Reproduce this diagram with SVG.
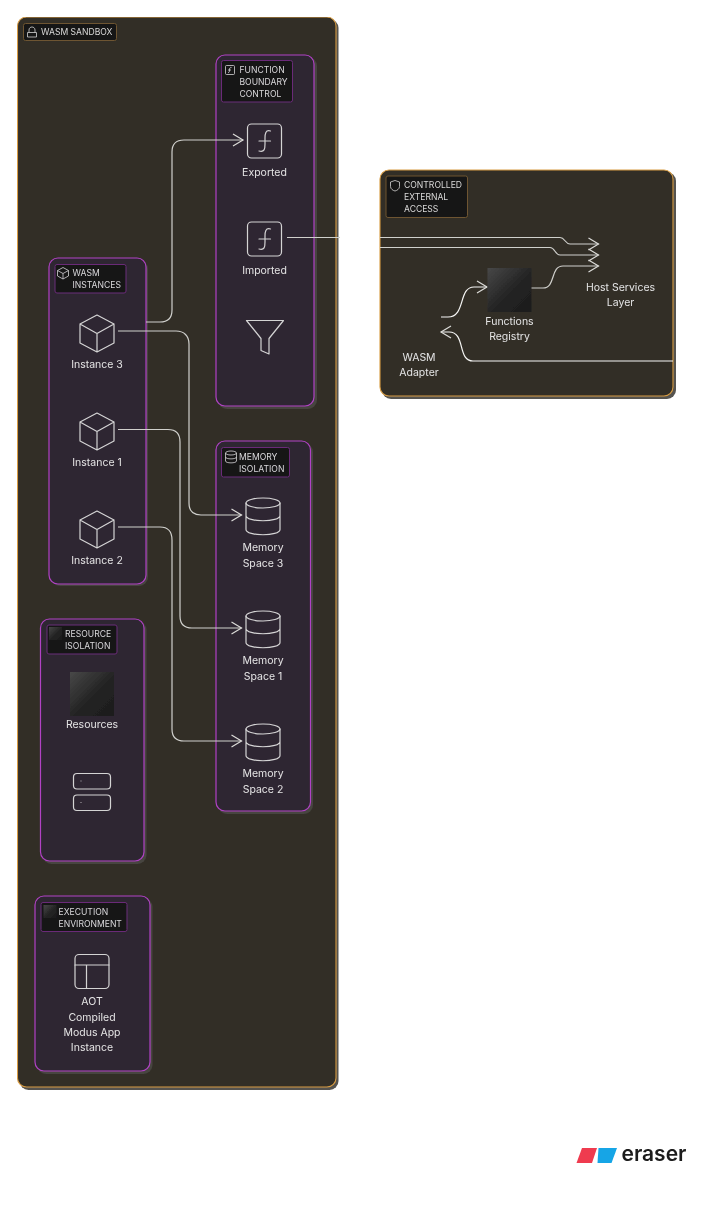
<svg xmlns="http://www.w3.org/2000/svg" width="701" height="1220" viewBox="0 0 701 1220">
<style>
text{font-family:"Inter","Roboto","Liberation Sans",sans-serif;fill:#e4e4e4}
.n{font-size:10.5px;text-anchor:middle}
.l{font-size:8.6px;fill:#dadada}
.shO{fill:#55534f}
.shP{fill:#46443f}
.outer{fill:#332f28;stroke:#d89c42;stroke-width:1.1}
.inner{fill:#2f2633;stroke:#b042c4;stroke-width:1.2}
.lbO{fill:#161514;stroke:#6e5530;stroke-width:1}
.lbP{fill:#161418;stroke:#6a2c78;stroke-width:1}
.ic{fill:none;stroke:#d4d4d4;stroke-width:1.2;stroke-linejoin:round;stroke-linecap:round}
.ics{fill:none;stroke:#d4d4d4;stroke-width:.8;stroke-linejoin:round}
.c{fill:none;stroke:#d0d0cc;stroke-width:1.2}
.w{fill:none;stroke:#f6f6f4;stroke-width:1.2}
</style>
<defs>
<filter id="soft" x="0" y="0" width="100%" height="100%"><feGaussianBlur stdDeviation="0.45"/></filter>
<linearGradient id="g" x1="0" y1="0" x2="1" y2="1"><stop offset="0" stop-color="#484848"/><stop offset=".55" stop-color="#232323"/><stop offset="1" stop-color="#1c1c1c"/></linearGradient>
<marker id="a" markerUnits="userSpaceOnUse" markerWidth="14" markerHeight="16" refX="12" refY="7" orient="auto" viewBox="0 0 14 14"><path d="M2 1L12 7L2 13" fill="none" stroke="#dcdcd8" stroke-width="1.2"/></marker>
<g id="cube"><path class="ic" d="M0 -18.500L17 -9.500V9.500L0 18.500L-17 9.500V-9.500ZM-17 -9.500L0 0L17 -9.500M0 0V18.500"/></g>
<g id="db"><ellipse class="ic" cx="0" cy="-13.500" rx="17" ry="5"/><path class="ic" d="M-17 -13.500V13C-17 20 17 20 17 13V-13.500M-17 -1C-17 6 17 6 17 -1"/></g>
<g id="fn"><rect class="ic" x="-17" y="-17" width="34" height="34" rx="4"/><path class="ic" d="M6 -10C1 -11.500 0.500 -7 0.500 -3V3C0.500 8 0 11.500 -5.500 10M-5.500 0H6"/></g>
</defs>
<rect width="701" height="1220" fill="#fff"/>
<g filter="url(#soft)">
<g id="sandbox"><rect class="shO" x="19.500" y="19" width="319" height="1071" rx="9"/><rect class="outer" x="17.500" y="17" width="318.500" height="1070" rx="9"/>
<g id="sandbox-label"><rect class="lbO" x="23.500" y="23.500" width="93" height="17" rx="2"/><path class="ics" d="M27.500 37H36.500V32.500H27.500ZM29 32.500V30C29 26 35 26 35 30V32.500"/><text class="l" x="41" y="35">WASM SANDBOX</text></g></g>

<g id="external"><rect class="shO" x="382" y="172" width="294" height="227" rx="9"/><rect class="outer" x="380" y="170" width="293" height="226" rx="9"/>
<g id="external-label"><rect class="lbO" x="386" y="176" width="81.500" height="41.500" rx="2"/><path class="ics" d="M395 180.500L399.500 182V186.500C399.500 189 397 190.500 395 191C393 190.500 390.500 189 390.500 186.500V182Z"/><text class="l" x="404" y="188">CONTROLLED</text><text class="l" x="404" y="200">EXTERNAL</text><text class="l" x="404" y="212">ACCESS</text></g></g>

<g id="function-boundary"><rect class="shP" x="218" y="57" width="99" height="352" rx="9"/><rect class="inner" x="216" y="55" width="98" height="351" rx="9"/>
<g id="function-label"><rect class="lbP" x="221.500" y="60.500" width="71" height="41.500" rx="2"/><rect class="ics" x="225.500" y="65.500" width="9" height="9" rx="1"/><path class="ics" d="M231.500 67.500C229.800 67 229.500 68.500 229.500 70C229.500 71.500 229.200 73 228 72.500M228 70H231"/><text class="l" x="239.500" y="73">FUNCTION</text><text class="l" x="239.500" y="85">BOUNDARY</text><text class="l" x="239.500" y="97">CONTROL</text></g></g>

<g id="instances"><rect class="shP" x="51" y="260" width="97" height="326" rx="9"/><rect class="inner" x="49" y="258" width="97" height="326" rx="9"/>
<g id="instances-label"><rect class="lbP" x="55" y="264.500" width="71" height="28.500" rx="2"/><path class="ics" d="M63 267.500L68.500 270.500V276L63 279L57.500 276V270.500ZM57.500 270.500L63 273.500L68.500 270.500M63 273.500V279"/><text class="l" x="72.500" y="276">WASM</text><text class="l" x="72.500" y="288">INSTANCES</text></g></g>

<g id="memory"><rect class="shP" x="218" y="443" width="95" height="371" rx="9"/><rect class="inner" x="216" y="441" width="94.500" height="370" rx="9"/>
<g id="memory-label"><rect class="lbP" x="221.500" y="447.500" width="68" height="29.500" rx="2"/><ellipse class="ics" cx="231" cy="453" rx="5.500" ry="2"/><path class="ics" d="M225.500 453V461C225.500 463.500 236.500 463.500 236.500 461V453M225.500 457C225.500 459.500 236.500 459.500 236.500 457"/><text class="l" x="239" y="460">MEMORY</text><text class="l" x="239" y="472">ISOLATION</text></g></g>

<g id="resource"><rect class="shP" x="42.500" y="621" width="104" height="243" rx="9"/><rect class="inner" x="40.500" y="619" width="103.500" height="242" rx="9"/>
<g id="resource-label"><rect class="lbP" x="47" y="625" width="70" height="29" rx="2"/><rect x="49" y="627" width="13" height="13" fill="url(#g)"/><text class="l" x="65" y="637">RESOURCE</text><text class="l" x="65" y="649">ISOLATION</text></g></g>

<g id="execution"><rect class="shP" x="37" y="898" width="115.500" height="176" rx="9"/><rect class="inner" x="35" y="896" width="115" height="175" rx="9"/>
<g id="execution-label"><rect class="lbP" x="41" y="902.500" width="86" height="29" rx="2"/><rect x="43.500" y="905" width="13" height="13" fill="url(#g)"/><text class="l" x="58.500" y="914.500">EXECUTION</text><text class="l" x="58.500" y="926.500">ENVIRONMENT</text></g></g>

<g id="connectors">
<path class="c" marker-end="url(#a)" d="M146 322H160C168 322 172 318 172 310V152C172 144 176 140 184 140H243"/>
<path class="c" marker-end="url(#a)" d="M118 331H176C184 331 189 336 189 344V503C189 511 193 515 201 515H241.500"/>
<path class="c" marker-end="url(#a)" d="M118 429.500H168C176 429.500 180 434 180 442V616C180 624 184 628 192 628H241.500"/>
<path class="c" marker-end="url(#a)" d="M118 527H160C168 527 172 532 172 540V729C172 737 176 741 184 741H241.500"/>
<path class="c" d="M287 237.500H340"/>
<path class="c" marker-end="url(#a)" d="M380 237.500H560C565 237.500 565 244 570 244H598.500"/>
<path class="c" marker-end="url(#a)" d="M380 247.500H550C555 247.500 555 255 560 255H598.500"/>
<path class="c" marker-end="url(#a)" d="M531 288H543C556 288 550 266 563 266H598.500"/>
<path class="w" marker-end="url(#a)" d="M441 317H448C466 317 458 287 474 287H487"/>
<path class="w" marker-end="url(#a)" d="M673 361H473C457 361 466 332 449 332H441"/>
</g>

<g id="exported"><use href="#fn" x="264.500" y="141"/><text class="n" x="264.500" y="176">Exported</text></g>
<g id="imported"><use href="#fn" x="264.500" y="239"/><text class="n" x="264.500" y="274">Imported</text></g>
<g id="filter"><path class="ic" d="M246.500 320.500H283.500L269 338.500V354L261 350.500V338.500Z"/></g>
<g id="instance-3"><use href="#cube" x="97" y="333.500"/><text class="n" x="97" y="368">Instance 3</text></g>
<g id="instance-1"><use href="#cube" x="97" y="431.500"/><text class="n" x="97" y="466">Instance 1</text></g>
<g id="instance-2"><use href="#cube" x="97" y="529.500"/><text class="n" x="97" y="564">Instance 2</text></g>
<g id="memory-3"><use href="#db" x="263" y="516.500"/><text class="n" x="263" y="551">Memory</text><text class="n" x="263" y="566.500">Space 3</text></g>
<g id="memory-1"><use href="#db" x="263" y="629.500"/><text class="n" x="263" y="664">Memory</text><text class="n" x="263" y="679.500">Space 1</text></g>
<g id="memory-2"><use href="#db" x="263" y="742.500"/><text class="n" x="263" y="777">Memory</text><text class="n" x="263" y="792.500">Space 2</text></g>
<g id="resources"><rect x="70" y="672" width="44" height="44" fill="url(#g)"/><text class="n" x="92" y="728">Resources</text></g>
<g id="server"><rect class="ic" x="73.500" y="773.500" width="37" height="15.500" rx="3.500"/><rect class="ic" x="73.500" y="795" width="37" height="15.500" rx="3.500"/><path class="ics" d="M80.500 781H81.500M80.500 802.500H81.500"/></g>
<g id="aot"><rect class="ic" x="75" y="954.500" width="34" height="34" rx="4"/><path class="ic" d="M75 965H109M86.500 965V988.500"/><text class="n" x="92" y="1005">AOT</text><text class="n" x="92" y="1020.500">Compiled</text><text class="n" x="92" y="1036">Modus App</text><text class="n" x="92" y="1051">Instance</text></g>
<g id="host"><text class="n" x="620.500" y="291">Host Services</text><text class="n" x="620.500" y="306">Layer</text></g>
<g id="registry"><rect x="487.500" y="268" width="44" height="44" fill="url(#g)"/><text class="n" x="509.500" y="324.500">Functions</text><text class="n" x="509.500" y="340">Registry</text></g>
<g id="adapter"><text class="n" x="419" y="360.500">WASM</text><text class="n" x="419" y="376">Adapter</text></g>
<g id="eraser-logo"><path d="M582 1148H597L592 1163H576.500Z" fill="#ef3a50"/><path d="M598.500 1148H617L611.500 1163H597.500Z" fill="#12a5e6"/><text x="621.500" y="1161" style="font-size:21px;font-weight:600;fill:#1a1a1a">eraser</text></g>
</g>
</svg>
